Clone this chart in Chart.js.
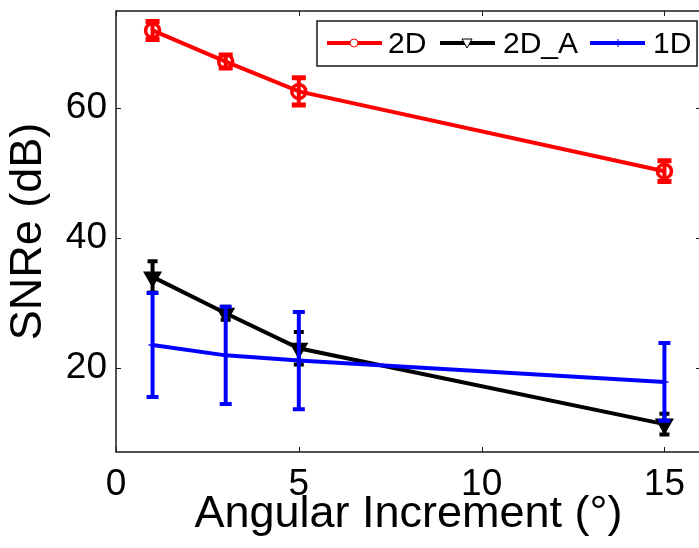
<!DOCTYPE html>
<html>
<head>
<meta charset="utf-8">
<script src="https://cdn.jsdelivr.net/npm/chart.js@4/dist/chart.umd.min.js"></script>
<style>
html,body{margin:0;padding:0;background:#fff;overflow:hidden;width:699px;height:548px;}
#wrap{width:712px;height:548px;}
</style>
</head>
<body>
<div id="wrap"><canvas id="c" width="712" height="548"></canvas></div>
<script>
// ---- data ----
const xValues = [1, 3, 5, 15];
const snr2D  = [72.0, 67.2, 62.6, 50.3];
const err2D  = [1.4, 1.0, 2.1, 1.6];
const snr2DA = [34.0, 28.4, 23.0, 11.3];
const err2DA = [2.4, 1.0, 2.5, 1.6];
const snr1D  = [23.5, 21.9, 21.1, 17.8];
const err1D  = [8.0, 7.5, 7.5, 6.0];
const xTicks = [0, 5, 10, 15];
const yTicks = [20, 40, 60];
const seriesNames = ['2D', '2D_A', '1D'];

const FONT = "'Liberation Sans', Arial, Helvetica, sans-serif";

function pts(ys){ return xValues.map((x,i)=>({x:x, y:ys[i]})); }

const errorBarPlugin = {
  id: 'errorBars',
  afterDatasetDraw(chart, args) {
    const ds = chart.data.datasets[args.index];
    if (!ds.errors) return;
    const ctx = chart.ctx, xs = chart.scales.x, ys = chart.scales.y;
    ctx.save();
    ctx.strokeStyle = ds.borderColor;
    ctx.lineCap = 'butt';
    ds.data.forEach((p, i) => {
      const e = ds.errors[i];
      const px = xs.getPixelForValue(p.x);
      const top = ys.getPixelForValue(p.y + e);
      const bot = ys.getPixelForValue(p.y - e);
      const hw = ds.capHalf;
      ctx.lineWidth = ds.errWidth;
      ctx.beginPath();
      ctx.moveTo(px, top); ctx.lineTo(px, bot);
      ctx.stroke();
      ctx.lineWidth = ds.capWidth;
      ctx.beginPath();
      ctx.moveTo(px - hw, top); ctx.lineTo(px + hw, top);
      ctx.moveTo(px - hw, bot); ctx.lineTo(px + hw, bot);
      ctx.stroke();
    });
    ctx.restore();
  }
};

const framePlugin = {
  id: 'frame',
  afterDraw(chart) {
    const ctx = chart.ctx, a = chart.chartArea, xs = chart.scales.x, ys = chart.scales.y;
    ctx.save();
    ctx.strokeStyle = '#1a1a1a';
    ctx.lineWidth = 1.5;
    ctx.strokeRect(a.left, a.top, a.right - a.left, a.bottom - a.top);
    ctx.lineWidth = 1;
    ctx.beginPath();
    xTicks.forEach(v => {
      const px = Math.round(xs.getPixelForValue(v)) + 0.5;
      ctx.moveTo(px, a.bottom); ctx.lineTo(px, a.bottom - 5);
      ctx.moveTo(px, a.top); ctx.lineTo(px, a.top + 5);
    });
    yTicks.forEach(v => {
      const py = Math.round(ys.getPixelForValue(v)) + 0.5;
      ctx.moveTo(a.left, py); ctx.lineTo(a.left + 5, py);
      ctx.moveTo(a.right, py); ctx.lineTo(a.right - 5, py);
    });
    ctx.stroke();

    // legend
    const bx = 317, by = 21, bw = 380, bh = 45;
    ctx.fillStyle = '#fff';
    ctx.fillRect(bx, by, bw, bh);
    ctx.strokeStyle = '#1a1a1a';
    ctx.lineWidth = 1.5;
    ctx.strokeRect(bx, by, bw, bh);
    const ly = 43;
    const items = [
      {color:'#ff0000', x0:327, x1:382, mx:354, tx:388, marker:'circle'},
      {color:'#000000', x0:440, x1:495, mx:467, tx:503, marker:'tri'},
      {color:'#0000ff', x0:590, x1:645, mx:618, tx:653, marker:'plus'}
    ];
    ctx.font = "30px " + FONT;
    ctx.textBaseline = 'middle';
    items.forEach((it, i) => {
      ctx.strokeStyle = it.color;
      ctx.lineWidth = 4;
      ctx.beginPath(); ctx.moveTo(it.x0, ly); ctx.lineTo(it.x1, ly); ctx.stroke();
      ctx.lineWidth = 1;
      if (it.marker === 'circle') {
        ctx.fillStyle = '#fff';
        ctx.beginPath(); ctx.arc(it.mx, ly, 4, 0, Math.PI*2); ctx.fill(); ctx.stroke();
      } else if (it.marker === 'tri') {
        ctx.fillStyle = '#fff';
        ctx.beginPath();
        ctx.moveTo(it.mx - 5, ly - 4); ctx.lineTo(it.mx + 5, ly - 4); ctx.lineTo(it.mx, ly + 5);
        ctx.closePath(); ctx.fill(); ctx.stroke();
      } else {
        ctx.beginPath();
        ctx.moveTo(it.mx - 4, ly); ctx.lineTo(it.mx + 4, ly);
        ctx.moveTo(it.mx, ly - 4); ctx.lineTo(it.mx, ly + 4);
        ctx.stroke();
      }
      ctx.fillStyle = '#000';
      ctx.fillText(seriesNames[i], it.tx, ly + 2);
    });
    ctx.restore();
  }
};

new Chart(document.getElementById('c'), {
  type: 'line',
  data: {
    datasets: [
      { label: seriesNames[0], data: pts(snr2D), errors: err2D, borderColor: '#ff0000',
        backgroundColor: 'rgba(0,0,0,0)', borderWidth: 4, pointStyle: 'circle', pointRadius: 7,
        pointBorderWidth: 3.5, pointBackgroundColor: 'rgba(0,0,0,0)', errWidth: 4, capWidth: 5, capHalf: 7, order: 3 },
      { label: seriesNames[1], data: pts(snr2DA), errors: err2DA, borderColor: '#000000',
        backgroundColor: '#000000', borderWidth: 4, pointStyle: 'triangle', rotation: 180, pointRadius: 9,
        pointBorderWidth: 2, pointBackgroundColor: '#000000', errWidth: 4, capWidth: 4, capHalf: 5, order: 2 },
      { label: seriesNames[2], data: pts(snr1D), errors: err1D, borderColor: '#0000ff',
        backgroundColor: '#0000ff', borderWidth: 4, pointStyle: 'cross', pointRadius: 4,
        pointBorderWidth: 1.5, errWidth: 4, capWidth: 4, capHalf: 6, order: 1 }
    ]
  },
  options: {
    responsive: false,
    animation: false,
    events: [],
    layout: { padding: { top: 11, right: 4, left: 0, bottom: 0 } },
    plugins: { legend: { display: false }, tooltip: { enabled: false } },
    scales: {
      x: {
        type: 'linear', min: 0, max: 16,
        grid: { display: false, drawTicks: false },
        border: { display: false },
        afterBuildTicks: s => { s.ticks = xTicks.map(v => ({ value: v })); },
        afterFit: s => { s.height = 96; s.paddingLeft = 0; s.paddingRight = 0; },
        ticks: { color: '#000', padding: 11, maxRotation: 0, font: { family: FONT, size: 37 } },
        title: { display: true, text: 'Angular Increment (°)', color: '#000',
                 font: { family: FONT, size: 45 }, padding: { top: 0, bottom: 6 } }
      },
      y: {
        type: 'linear', min: 7, max: 75,
        grid: { display: false, drawTicks: false },
        border: { display: false },
        afterBuildTicks: s => { s.ticks = yTicks.map(v => ({ value: v })); },
        afterFit: s => { s.width = 116; s.paddingTop = 0; s.paddingBottom = 0; },
        ticks: { color: '#000', padding: 9, font: { family: FONT, size: 37 } },
        title: { display: true, text: 'SNRe (dB)', color: '#000',
                 font: { family: FONT, size: 45 }, padding: { top: 2, bottom: 0 } }
      }
    }
  },
  plugins: [errorBarPlugin, framePlugin]
});
</script>
</body>
</html>
